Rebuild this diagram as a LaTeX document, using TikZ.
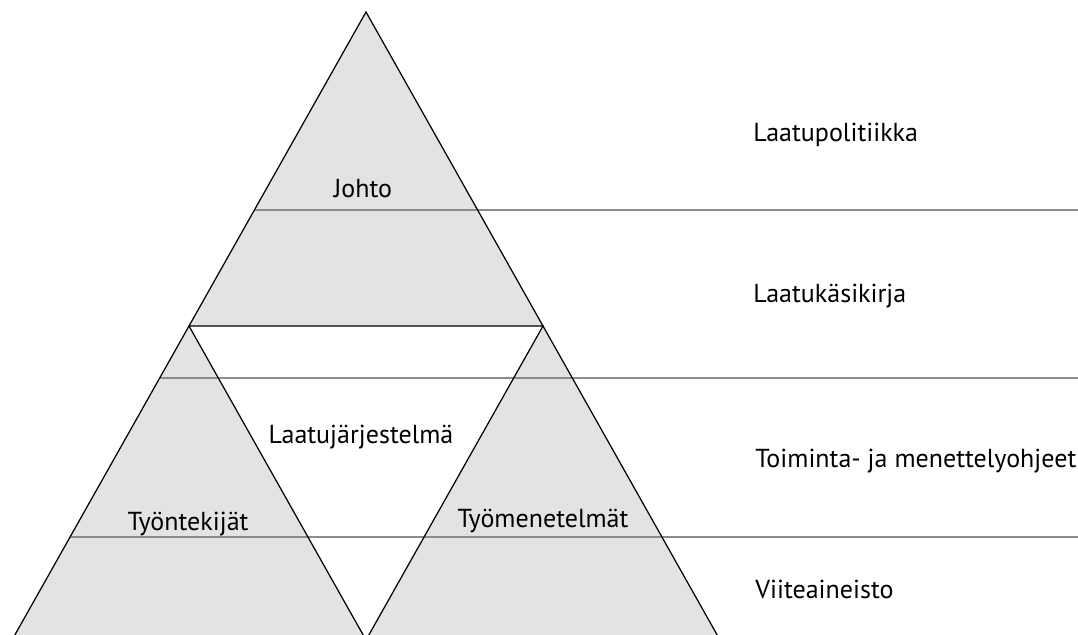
\documentclass[tikz,border=0pt]{standalone}
\usepackage{fontspec}
\setmainfont{PT Sans}
\begin{document}
\begin{tikzpicture}[x=0.2mm,y=-0.2mm,
  kolmio/.style={fill=black!11},
  reuna/.style={draw=black, line width=0.7pt, line join=miter},
  taso/.style={draw=black!45, line width=0.9pt},
  nimi/.style={inner sep=0pt, font=\fontsize{14.8}{17}\selectfont}]
\useasboundingbox (0,0) rectangle (1078,634);
\clip (0,0) rectangle (1078,634);

%kolmioiden karjet
\coordinate (huippu) at (366,12);
\coordinate (vasen) at (189,326);
\coordinate (oikea) at (543,326);
\coordinate (vasenala) at (12,640);
\coordinate (keskiala) at (366,640);
\coordinate (oikeaala) at (720,640);

%taytot
\fill [kolmio] (huippu) -- (vasen) -- (oikea) -- cycle;
\fill [kolmio] (vasen) -- (vasenala) -- (keskiala) -- cycle;
\fill [kolmio] (oikea) -- (keskiala) -- (oikeaala) -- cycle;

%tasoviivat
\foreach \y/\x in {210/254, 378/160, 537/70}
   {\draw [taso] (\x,\y) -- (1078,\y);
   }

%reunat
\draw [reuna] (huippu) -- (vasen) -- (oikea) -- cycle;
\draw [reuna] (vasen) -- (vasenala);
\draw [reuna] (vasen) -- (keskiala) -- (oikea) -- (oikeaala);

%kolmioiden tekstit
\node [nimi, anchor=base] (johto) at (363,197) {Johto};
\node [nimi, anchor=base] (tyontekijat) at (188,530) {Työntekijät};
\node [nimi, anchor=base] (tyomenetelmat) at (543,527) {Työmenetelmät};
\node [nimi, anchor=base] (jarjestelma) at (361,443) {Laatujärjestelmä};

%tasojen nimet
\node [nimi, anchor=base west] (politiikka) at (753,141) {Laatupolitiikka};
\node [nimi, anchor=base west] (kasikirja) at (753,302) {Laatukäsikirja};
\node [nimi, anchor=base west] (ohjeet) at (755,467) {Toiminta- ja menettelyohjeet};
\node [nimi, anchor=base west] (aineisto) at (755,598) {Viiteaineisto};

\end{tikzpicture}
\end{document}
